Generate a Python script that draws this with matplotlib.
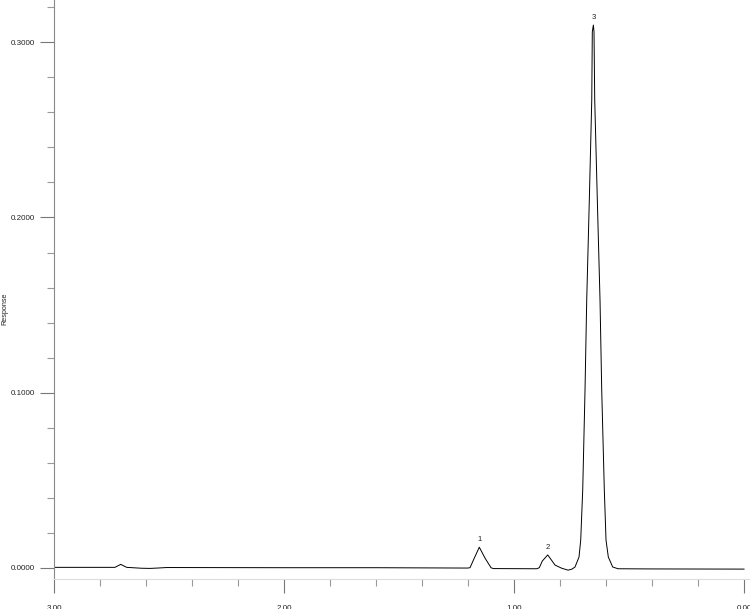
import matplotlib
matplotlib.use('Agg')
import matplotlib.pyplot as plt
from matplotlib.ticker import MultipleLocator, FormatStrFormatter

plt.rcParams['font.family'] = ['Liberation Sans', 'DejaVu Sans']

# retention time (min) and response
trace_x = [3.0, 2.80, 2.735, 2.71, 2.684, 2.62, 2.583, 2.55, 2.51, 2.0, 1.6,
           1.2014, 1.1913, 1.1726, 1.1509, 1.1261, 1.10, 1.09, 0.9014, 0.89,
           0.877, 0.8535, 0.838, 0.8217, 0.7926, 0.765, 0.748, 0.7348, 0.7174,
           0.7100, 0.7013, 0.6913, 0.6839, 0.6726, 0.6620, 0.6596, 0.655,
           0.6522, 0.6491, 0.6378, 0.6261, 0.6187, 0.6074, 0.6000, 0.5900,
           0.5709, 0.5478, 0.40, 0.0]
trace_y = [0.0002, 0.0002, 0.0002, 0.0019, 0.0002, -0.0003, -0.0004, -0.0002,
           0.0001, 0.0, 0.0, -0.0002, 0.0, 0.0055, 0.0117, 0.0055, 0.0, -0.0005,
           -0.0006, 0.0, 0.0038, 0.0073, 0.0045, 0.0015, -0.0003, -0.0014,
           -0.0008, 0.0004, 0.0061, 0.0158, 0.0444, 0.1015, 0.1529, 0.2100,
           0.2671, 0.3060, 0.3099, 0.3060, 0.2671, 0.2100, 0.1529, 0.1015,
           0.0444, 0.0158, 0.0061, 0.0004, -0.0006, -0.0007, -0.0008]

peak_labels = ['1', '2', '3']
peak_x = [1.1509, 0.8535, 0.655]
peak_y = [0.0117, 0.0073, 0.3099]

fig = plt.figure(figsize=(7.5, 6.09), dpi=100)
ax = fig.add_axes([54 / 750, 30 / 609, 696 / 750, 579 / 609])

ax.plot(trace_x, trace_y, color='black', lw=0.7)
for lab, px, py in zip(peak_labels, peak_x, peak_y):
    ax.annotate(lab, (px, py), xytext=(0, 3), textcoords='offset points',
                ha='center', va='bottom', fontsize=5.5, color='#222222')

ax.set_xlim(3.0, -0.026)
ax.set_ylim(-0.00645, 0.3242)

ax.xaxis.set_major_locator(MultipleLocator(1.0))
ax.xaxis.set_minor_locator(MultipleLocator(0.2))
ax.xaxis.set_major_formatter(FormatStrFormatter('%.2f'))
ax.yaxis.set_major_locator(MultipleLocator(0.1))
ax.yaxis.set_minor_locator(MultipleLocator(0.02))
ax.yaxis.set_major_formatter(FormatStrFormatter('%.4f'))

ax.tick_params(axis='both', which='major', length=10, width=0.8, color='#777777',
               labelsize=5.8, labelcolor='#222222')
ax.tick_params(axis='both', which='minor', length=5, width=0.8, color='#999999')
ax.tick_params(axis='x', which='major', pad=9)
ax.tick_params(axis='y', which='major', pad=4)

for side in ['top', 'right']:
    ax.spines[side].set_visible(False)
ax.spines['left'].set_color('#888888')
ax.spines['left'].set_linewidth(0.8)
ax.spines['bottom'].set_color('#dddddd')
ax.spines['bottom'].set_linewidth(0.8)

fig.text(4.5 / 750, 1 - 309 / 609, 'Response', rotation=90, fontsize=5.2,
         color='#222222', ha='center', va='center')

fig.savefig('out.png', dpi=100)
